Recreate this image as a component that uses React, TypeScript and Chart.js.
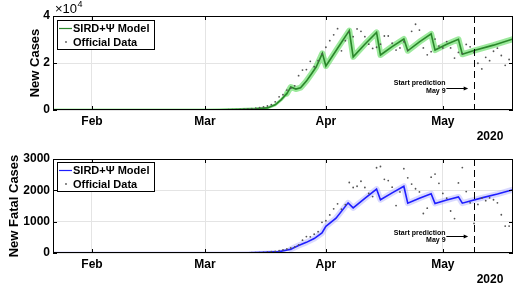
import React, { useEffect, useRef } from 'react';
import { Chart, registerables } from 'chart.js';

Chart.register(...registerables);

// ---------- data ----------
// day index 0 = 22 Jan 2020
const X_MIN_DAY = 0;
const X_MAX_DAY = 118;
const X_TICK_DAYS = [10, 39, 70, 100];
const X_TICK_LABELS = ['Feb', 'Mar', 'Apr', 'May'];
const YEAR_LABEL = '2020';
const PREDICTION_DAY = 108;
const LEGEND_LABELS = ['SIRD+\u03A8 Model', 'Official Data'];

// New cases: model vertices
const CASES_MODEL_DAYS = [0, 40, 48, 52, 55, 57, 58.5, 60, 61, 62.3, 63.5, 65, 66.1, 67.5, 69.1, 70, 73, 76, 77, 80, 83, 84, 87, 90, 91, 94, 97, 98, 101, 104, 105, 108, 113, 118];
const CASES_MODEL_VALUES = [0, 30, 250, 500, 900, 2200, 4300, 7000, 9800, 8900, 9500, 12300, 14900, 18300, 24100, 18700, 26300, 33800, 22600, 28000, 33000, 23400, 27000, 30200, 25200, 29000, 32400, 25500, 28000, 30100, 23700, 25300, 27600, 30200];
// New cases: official daily data (one value per day from day 0)
const CASES_OFFICIAL = [
  0, 0, 0, 0, 0, 0, 0, 0, 0, 0,
  0, 0, 0, 0, 0, 0, 0, 0, 0, 0,
  0, 0, 0, 0, 0, 0, 0, 0, 0, 0,
  0, 0, 0, 0, 0, 0, 0, 0, 0, 10,
  15, 20, 30, 50, 70, 100, 120, 180, 250, 350,
  450, 550, 750, 1000, 1300, 1700, 2250, 3500, 5600, 6500,
  8500, 9300, 10300, 14600, 17000, 17200, 20700, 18400, 21000, 23800,
  26700, 29500, 32000, 34600, 25200, 29500, 33000, 31200, 34500, 33500,
  31200, 28000, 26200, 26700, 28000, 31500, 31500, 28400, 25500, 26400,
  29000, 25500, 33500, 36500, 34000, 26400, 23500, 24800, 30200, 27200,
  26400, 29100, 26400, 22100, 24500, 24000, 27900, 26900, 24500, 19900,
  17500, 22400, 21000, 25000, 26300, 23200, 19000, 21500, 20500
];
const CASES_Y_TICKS = [0, 20000, 40000];

// New fatal cases: model vertices
const DEATHS_MODEL_DAYS = [0, 45, 50, 54, 58, 61, 63, 65, 67, 69, 70, 72.6, 75.7, 77, 80, 83, 84, 87, 90, 91, 94, 97, 98, 101, 104, 105, 110, 114, 118];
const DEATHS_MODEL_VALUES = [0, 0, 5, 20, 45, 120, 240, 340, 460, 640, 850, 1110, 1600, 1440, 1740, 2040, 1700, 1920, 2130, 1590, 1750, 1890, 1580, 1690, 1790, 1590, 1760, 1880, 2020];
const DEATHS_OFFICIAL = [
  0, 0, 0, 0, 0, 0, 0, 0, 0, 0,
  0, 0, 0, 0, 0, 0, 0, 0, 0, 0,
  0, 0, 0, 0, 0, 0, 0, 0, 0, 0,
  0, 0, 0, 0, 0, 0, 0, 0, 0, 0,
  0, 0, 0, 0, 0, 1, 1, 2, 3, 4,
  5, 8, 10, 15, 22, 30, 40, 55, 75, 100,
  130, 160, 194, 258, 410, 525, 516, 600, 680, 980,
  1030, 1215, 1410, 1570, 1400, 1540, 2250, 2090, 2130, 2290,
  2090, 1900, 1800, 2720, 2760, 2350, 2310, 2100, 1515, 1950,
  2690, 2400, 2200, 2050, 1950, 1260, 1430, 2420, 2520, 2225,
  1900, 1750, 1340, 1100, 2235, 2725, 1960, 1600, 945, 1550,
  1750, 1670, 1760, 1700, 1600, 1220, 860, 860, 1000
];
const DEATHS_Y_TICKS = [0, 1000, 2000, 3000];

const FONT = '"Liberation Sans", Arial, Helvetica, sans-serif';
Chart.defaults.font.family = FONT;

type Panel = {
  height: number;
  padTop: number;
  modelDays: number[];
  modelValues: number[];
  official: number[];
  yTicks: number[];
  yLabel: (v: number) => string;
  lineColor: string;
  bandColor: string;
  title: string;
  titleX: number;
  legendDY: number;
  exponent: boolean;
  textValues: [number, number, number]; // start text, May 9 text, arrow
};

const PANELS: Panel[] = [
  {
    height: 142,
    padTop: 16,
    modelDays: CASES_MODEL_DAYS,
    modelValues: CASES_MODEL_VALUES,
    official: CASES_OFFICIAL,
    yTicks: CASES_Y_TICKS,
    yLabel: (v) => String(v / 10000),
    lineColor: '#2a872a',
    bandColor: 'rgba(95, 220, 95, 0.62)',
    title: 'New Cases',
    titleX: 35.5,
    legendDY: 4,
    exponent: true,
    textValues: [11400, 8100, 9500],
  },
  {
    height: 143,
    padTop: 17,
    modelDays: DEATHS_MODEL_DAYS,
    modelValues: DEATHS_MODEL_VALUES,
    official: DEATHS_OFFICIAL,
    yTicks: DEATHS_Y_TICKS,
    yLabel: (v) => String(v),
    lineColor: '#1e1eff',
    bandColor: 'rgba(170, 170, 255, 0.45)',
    title: 'New Fatal Cases',
    titleX: 14,
    legendDY: 3,
    exponent: false,
    textValues: [650, 410, 530],
  },
];

function overlay(p: Panel) {
  return {
    id: 'overlay',
    afterDatasetsDraw(chart: any) {
      const { ctx, chartArea: a, scales } = chart;
      const x = scales.x;
      const y = scales.y;
      ctx.save();
      ctx.strokeStyle = '#000';
      ctx.lineWidth = 1;

      // prediction dashed line
      const px = Math.round(x.getPixelForValue(PREDICTION_DAY)) + 0.5;
      ctx.setLineDash([7, 4]);
      ctx.beginPath();
      ctx.moveTo(px, a.top);
      ctx.lineTo(px, a.bottom);
      ctx.stroke();
      ctx.setLineDash([]);

      // box
      ctx.strokeRect(a.left + 0.5, a.top + 0.5, a.right - a.left - 1, a.bottom - a.top - 1);

      // inward ticks
      const TL = 4;
      ctx.beginPath();
      X_TICK_DAYS.forEach((d) => {
        const xp = Math.round(x.getPixelForValue(d)) + 0.5;
        ctx.moveTo(xp, a.bottom);
        ctx.lineTo(xp, a.bottom - TL);
        ctx.moveTo(xp, a.top);
        ctx.lineTo(xp, a.top + TL);
      });
      p.yTicks.forEach((v) => {
        const yp = Math.round(y.getPixelForValue(v)) + 0.5;
        ctx.moveTo(a.left, yp);
        ctx.lineTo(a.left + TL, yp);
        ctx.moveTo(a.right, yp);
        ctx.lineTo(a.right - TL, yp);
      });
      ctx.stroke();

      // annotation
      const tx = x.getPixelForValue(100.7);
      ctx.fillStyle = '#000';
      ctx.font = `bold 7px ${FONT}`;
      ctx.textAlign = 'right';
      ctx.textBaseline = 'middle';
      ctx.fillText('Start prediction', tx, y.getPixelForValue(p.textValues[0]));
      ctx.fillText('May 9', tx, y.getPixelForValue(p.textValues[1]));
      const ay = Math.round(y.getPixelForValue(p.textValues[2])) + 0.5;
      const ax0 = x.getPixelForValue(100.9);
      const ax1 = x.getPixelForValue(106.5);
      ctx.beginPath();
      ctx.moveTo(ax0, ay);
      ctx.lineTo(ax1 - 3, ay);
      ctx.stroke();
      ctx.beginPath();
      ctx.moveTo(ax1, ay);
      ctx.lineTo(ax1 - 4.5, ay - 2);
      ctx.lineTo(ax1 - 4.5, ay + 2);
      ctx.closePath();
      ctx.fill();

      // legend
      const lx = a.left + 4;
      const ly = a.top + p.legendDY;
      ctx.fillStyle = '#fff';
      ctx.fillRect(lx, ly, 98, 30);
      ctx.strokeStyle = '#000';
      ctx.strokeRect(lx + 0.5, ly + 0.5, 97, 29);
      ctx.strokeStyle = p.lineColor;
      ctx.lineWidth = 1.2;
      ctx.beginPath();
      ctx.moveTo(lx + 2, ly + 8.5);
      ctx.lineTo(lx + 15, ly + 8.5);
      ctx.stroke();
      ctx.fillStyle = '#000';
      ctx.font = `bold 11px ${FONT}`;
      ctx.textAlign = 'left';
      ctx.textBaseline = 'middle';
      ctx.fillText(LEGEND_LABELS[0], lx + 16, ly + 9);
      ctx.fillText(LEGEND_LABELS[1], lx + 16, ly + 22.5);
      ctx.fillStyle = '#555';
      ctx.beginPath();
      ctx.arc(lx + 9, ly + 22, 0.9, 0, Math.PI * 2);
      ctx.fill();

      // axis title
      ctx.save();
      ctx.translate(p.titleX, (a.top + a.bottom) / 2);
      ctx.rotate(-Math.PI / 2);
      ctx.fillStyle = '#000';
      ctx.font = `bold 13px ${FONT}`;
      ctx.textAlign = 'center';
      ctx.textBaseline = 'middle';
      ctx.fillText(p.title, 0, 0);
      ctx.restore();

      // exponent
      if (p.exponent) {
        ctx.fillStyle = '#000';
        ctx.textAlign = 'left';
        ctx.textBaseline = 'alphabetic';
        ctx.font = `13px ${FONT}`;
        ctx.fillText('\u00D710', 55, 13);
        const w = ctx.measureText('\u00D710').width;
        ctx.font = `9px ${FONT}`;
        ctx.fillText('4', 55 + w + 0.5, 7);
      }

      // year
      ctx.fillStyle = '#000';
      ctx.font = `bold 12px ${FONT}`;
      ctx.textAlign = 'center';
      ctx.textBaseline = 'middle';
      ctx.fillText(YEAR_LABEL, 490, a.bottom + 27);
      ctx.restore();
    },
  };
}

function makeChart(canvas: HTMLCanvasElement, p: Panel) {
  const model = p.modelDays.map((d, i) => ({ x: d, y: p.modelValues[i] }));
  const official = p.official.map((v, i) => ({ x: i, y: v }));
  const yMax = p.yTicks[p.yTicks.length - 1];
  return new Chart(canvas, {
    type: 'line',
    data: {
      datasets: [
        {
          data: official,
          showLine: false,
          pointRadius: 0.9,
          pointBorderWidth: 0,
          pointBackgroundColor: '#555',
          order: 1,
        } as any,
        {
          data: model,
          borderColor: p.lineColor,
          borderWidth: 1.6,
          pointRadius: 0,
          fill: false,
          order: 2,
          clip: 0,
        } as any,
        {
          data: model,
          borderColor: p.bandColor,
          borderWidth: 6,
          borderJoinStyle: 'round',
          borderCapStyle: 'round',
          pointRadius: 0,
          fill: false,
          order: 3,
          clip: 0,
          segment: {
            borderWidth: (c: any) => (c.p0.parsed.x < 60 ? 3 : 6),
          },
        } as any,
      ],
    },
    options: {
      animation: false,
      responsive: false,
      devicePixelRatio: 1,
      events: [],
      layout: { padding: { top: p.padTop, right: 3, left: 0, bottom: 0 } },
      plugins: { legend: { display: false }, tooltip: { enabled: false } },
      scales: {
        x: {
          type: 'linear',
          min: X_MIN_DAY,
          max: X_MAX_DAY,
          afterBuildTicks: (axis: any) => {
            axis.ticks = X_TICK_DAYS.map((v) => ({ value: v }));
          },
          afterFit: (scale: any) => {
            scale.height = p.height - p.padTop - 94;
          },
          ticks: {
            autoSkip: false,
            maxRotation: 0,
            padding: 4,
            color: '#000',
            font: { size: 12, weight: 'bold' },
            callback: (v: any) => {
              const i = X_TICK_DAYS.indexOf(Number(v));
              return i >= 0 ? X_TICK_LABELS[i] : '';
            },
          },
          grid: { color: '#e4e4e4', drawTicks: false },
          border: { display: false },
        },
        y: {
          min: 0,
          max: yMax,
          afterBuildTicks: (axis: any) => {
            axis.ticks = p.yTicks.map((v) => ({ value: v }));
          },
          afterFit: (scale: any) => {
            scale.width = 53;
          },
          ticks: {
            padding: 3,
            color: '#000',
            font: { size: 12, weight: 'bold' },
            callback: (v: any) => p.yLabel(Number(v)),
          },
          grid: { color: '#e4e4e4', drawTicks: false },
          border: { display: false },
        },
      },
    } as any,
    plugins: [overlay(p)],
  });
}

export default function App() {
  const topRef = useRef<HTMLCanvasElement>(null);
  const botRef = useRef<HTMLCanvasElement>(null);
  useEffect(() => {
    const charts = [
      makeChart(topRef.current as HTMLCanvasElement, PANELS[0]),
      makeChart(botRef.current as HTMLCanvasElement, PANELS[1]),
    ];
    return () => charts.forEach((c) => c.destroy());
  }, []);
  return (
    <div style={{ position: 'absolute', left: 0, top: 0, width: 517, height: 285, background: '#fff' }}>
      <canvas ref={topRef} width={517} height={PANELS[0].height} style={{ display: 'block' }} />
      <canvas ref={botRef} width={517} height={PANELS[1].height} style={{ display: 'block' }} />
    </div>
  );
}
